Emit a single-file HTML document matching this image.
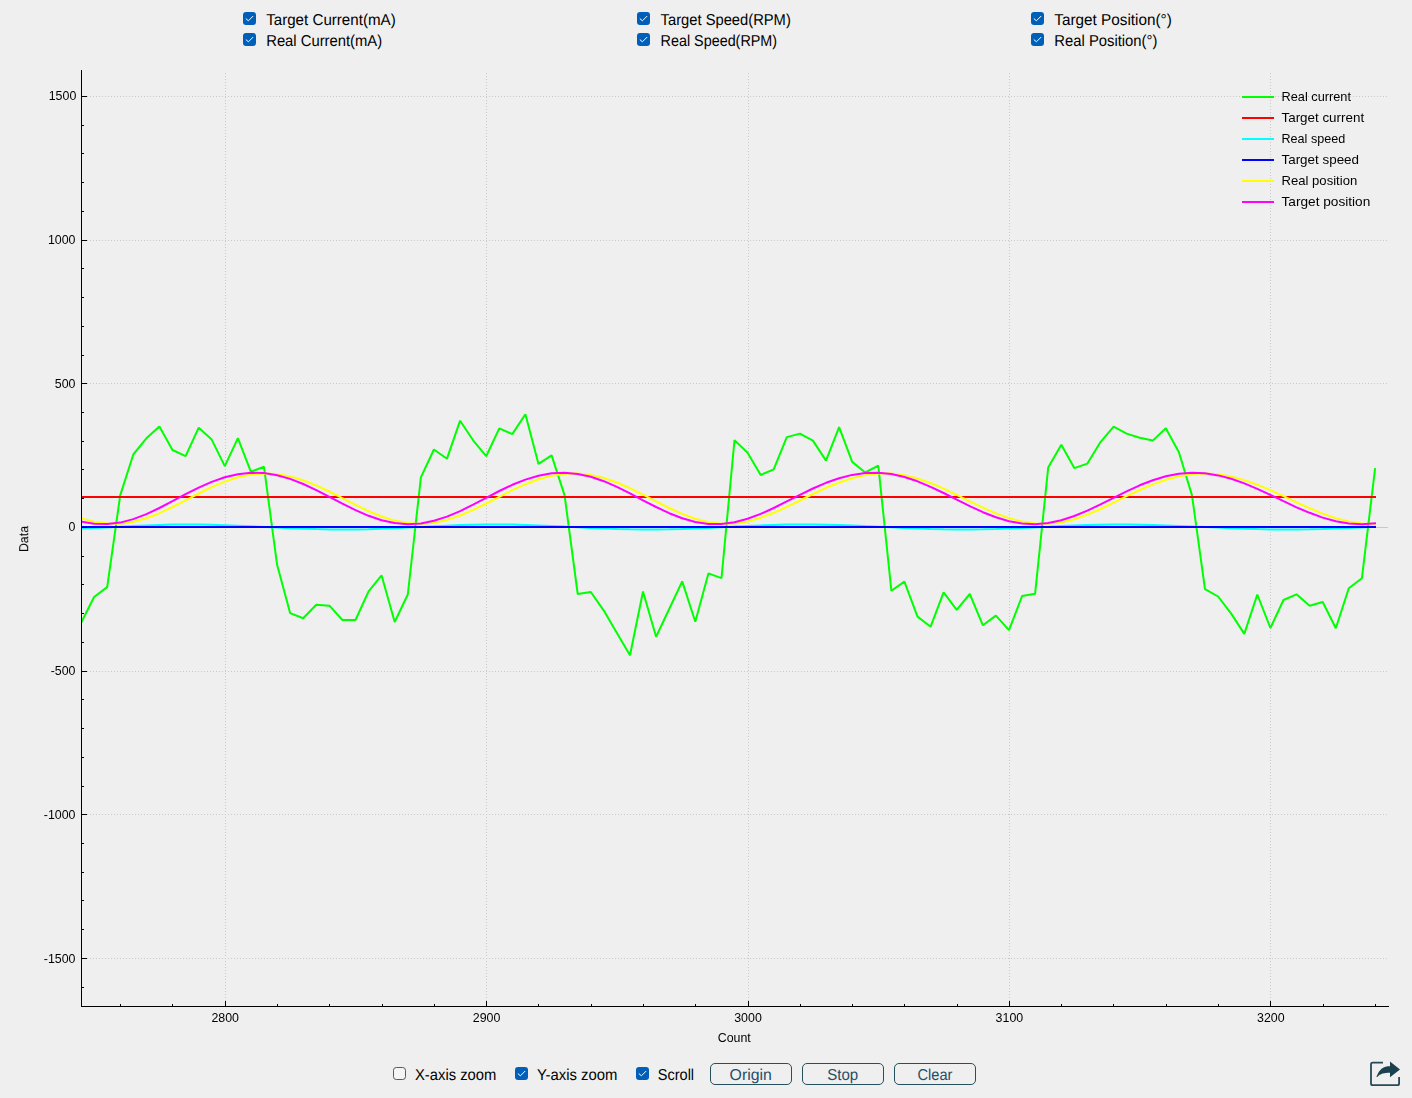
<!DOCTYPE html>
<html><head><meta charset="utf-8"><title>Plot</title>
<style>
html,body{margin:0;padding:0;background:#efefef;}
body{width:1412px;height:1098px;overflow:hidden;font-family:"Liberation Sans", sans-serif;}
svg{display:block;position:absolute;left:0;top:0;}
text{font-family:"Liberation Sans", sans-serif;}
.tk{font-size:12.4px;fill:#000;}
.lg{font-size:13px;fill:#000;}
.cb{text-rendering:geometricPrecision;font-size:15.8px;fill:#000;}
.bt{text-rendering:geometricPrecision;font-size:15.8px;fill:#1f4e66;}
</style></head><body>
<svg width="1412" height="1098" viewBox="0 0 1412 1098">
<rect x="0" y="0" width="1412" height="1098" fill="#efefef"/>
<defs><clipPath id="cp"><rect x="82" y="70" width="1307" height="936"/></clipPath>
<symbol id="ck" overflow="visible"><rect x="0" y="0" width="13" height="13" rx="3" ry="3" fill="#005fb8"/><path d="M3.1 6.8 L5.4 8.8 L9.9 4.3" fill="none" stroke="#fff" stroke-width="1" stroke-linecap="round" stroke-linejoin="round"/></symbol>
<symbol id="uk" overflow="visible"><rect x="0.5" y="0.5" width="12" height="12" rx="2.8" ry="2.8" fill="#f5f5f5" stroke="#585858" stroke-width="1"/></symbol>
</defs>

<g shape-rendering="crispEdges" stroke="#c8c8c8" stroke-width="1" stroke-dasharray="1 2" fill="none">
<line x1="87" y1="96.5" x2="1388" y2="96.5"/>
<line x1="87" y1="240.5" x2="1388" y2="240.5"/>
<line x1="87" y1="383.5" x2="1388" y2="383.5"/>
<line x1="87" y1="671.5" x2="1388" y2="671.5"/>
<line x1="87" y1="814.5" x2="1388" y2="814.5"/>
<line x1="87" y1="958.5" x2="1388" y2="958.5"/>
<line x1="225.5" y1="73" x2="225.5" y2="1001"/>
<line x1="486.5" y1="73" x2="486.5" y2="1001"/>
<line x1="748.5" y1="73" x2="748.5" y2="1001"/>
<line x1="1009.5" y1="73" x2="1009.5" y2="1001"/>
<line x1="1270.5" y1="73" x2="1270.5" y2="1001"/>
</g>
<line x1="82" y1="527.5" x2="1388" y2="527.5" stroke="#c8c8c8" stroke-width="1" shape-rendering="crispEdges"/>
<g clip-path="url(#cp)" fill="none" stroke-width="2" stroke-linejoin="bevel" stroke-linecap="square">
<polyline stroke="#00ff00" points="81.0,623.0 94.1,597.0 107.2,587.1 120.2,495.4 133.3,454.5 146.4,438.3 159.4,426.4 172.5,450.0 185.6,456.2 198.7,427.7 211.7,439.6 224.8,466.1 237.9,438.1 250.9,471.8 264.0,466.8 277.1,564.8 290.1,613.1 303.2,618.3 316.3,604.7 329.4,605.7 342.4,620.0 355.5,620.0 368.6,591.3 381.6,575.4 394.7,622.0 407.8,594.5 420.9,477.3 433.9,449.5 447.0,458.7 460.1,420.7 473.1,440.3 486.2,456.2 499.3,428.4 512.3,434.1 525.4,414.3 538.5,463.9 551.6,455.4 564.6,495.4 577.7,594.0 590.8,592.0 603.8,610.6 616.9,632.9 630.0,655.2 643.0,591.5 656.1,636.7 669.2,609.0 682.2,581.4 695.3,621.8 708.4,573.4 721.5,578.1 734.5,440.1 747.6,452.7 760.7,475.0 773.7,469.3 786.8,437.1 799.9,433.6 812.9,440.6 826.0,460.6 839.1,427.2 852.2,461.9 865.2,472.5 878.3,465.6 891.4,590.8 904.4,581.6 917.5,616.6 930.6,626.7 943.6,592.3 956.7,609.9 969.8,594.0 982.9,625.3 995.9,615.6 1009.0,630.2 1022.1,596.0 1035.1,593.8 1048.2,467.6 1061.3,444.8 1074.3,468.1 1087.4,463.6 1100.5,442.1 1113.6,426.7 1126.6,433.6 1139.7,437.8 1152.8,440.6 1165.8,428.2 1178.9,452.2 1192.0,495.4 1205.0,589.1 1218.1,596.5 1231.2,613.6 1244.3,633.9 1257.3,594.5 1270.4,628.0 1283.5,600.0 1296.5,594.3 1309.6,605.7 1322.7,602.0 1335.8,628.2 1348.8,588.3 1361.9,578.2 1375.0,469.2"/>
<line stroke="#ff0000" x1="81.0" y1="497" x2="1375.0" y2="497"/>
<polyline stroke="#00ffff" points="81.0,528.6 94.1,528.0 107.2,527.4 120.2,526.7 133.3,526.0 146.4,525.4 159.4,525.0 172.5,524.6 185.6,524.5 198.7,524.6 211.7,524.8 224.8,525.2 237.9,525.7 250.9,526.3 264.0,526.9 277.1,527.6 290.1,528.2 303.2,528.7 316.3,529.1 329.4,529.4 342.4,529.5 355.5,529.4 368.6,529.2 381.6,528.8 394.7,528.2 407.8,527.6 420.9,526.9 433.9,526.3 447.0,525.7 460.1,525.1 473.1,524.8 486.2,524.5 499.3,524.5 512.3,524.6 525.4,524.9 538.5,525.4 551.6,525.9 564.6,526.6 577.7,527.2 590.8,527.9 603.8,528.4 616.9,528.9 630.0,529.3 643.0,529.5 656.1,529.5 669.2,529.3 682.2,529.0 695.3,528.5 708.4,527.9 721.5,527.2 734.5,526.6 747.6,525.9 760.7,525.4 773.7,524.9 786.8,524.6 799.9,524.5 812.9,524.5 826.0,524.7 839.1,525.1 852.2,525.5 865.2,526.1 878.3,526.7 891.4,527.3 904.4,527.9 917.5,528.5 930.6,529.0 943.6,529.3 956.7,529.5 969.8,529.5 982.9,529.3 995.9,529.0 1009.0,528.6 1022.1,528.0 1035.1,527.4 1048.2,526.8 1061.3,526.1 1074.3,525.5 1087.4,525.1 1100.5,524.7 1113.6,524.5 1126.6,524.5 1139.7,524.7 1152.8,524.9 1165.8,525.4 1178.9,525.9 1192.0,526.4 1205.0,527.0 1218.1,527.6 1231.2,528.2 1244.3,528.7 1257.3,529.1 1270.4,529.4 1283.5,529.5 1296.5,529.5 1309.6,529.3 1322.7,529.0 1335.8,528.6 1348.8,528.1 1361.9,527.5 1375.0,526.9"/>
<line stroke="#0000ff" x1="81.0" y1="527" x2="1375.0" y2="527"/>
<polyline stroke="#ffff00" points="81.0,518.3 94.1,521.8 107.2,523.6 120.2,523.7 133.3,521.8 146.4,518.2 159.4,513.2 172.5,507.0 185.6,500.3 198.7,493.5 211.7,487.1 224.8,481.6 237.9,477.3 250.9,474.5 264.0,473.4 277.1,474.1 290.1,476.4 303.2,480.3 316.3,485.4 329.4,491.5 342.4,498.2 355.5,504.8 368.6,511.1 381.6,516.5 394.7,520.6 407.8,523.1 420.9,523.9 433.9,522.8 447.0,519.9 460.1,515.5 473.1,509.9 486.2,503.5 499.3,496.8 512.3,490.2 525.4,484.2 538.5,479.3 551.6,475.7 564.6,473.8 577.7,473.5 590.8,475.0 603.8,478.0 616.9,482.5 630.0,488.2 643.0,494.6 656.1,501.4 669.2,508.0 682.2,513.9 695.3,518.8 708.4,522.2 721.5,523.8 734.5,523.5 747.6,521.5 760.7,517.8 773.7,512.8 786.8,506.9 799.9,500.5 812.9,494.0 826.0,487.8 839.1,482.5 852.2,478.2 865.2,475.1 878.3,473.6 891.4,473.6 904.4,475.3 917.5,478.5 930.6,483.0 943.6,488.6 956.7,494.9 969.8,501.4 982.9,507.7 995.9,513.4 1009.0,518.1 1022.1,521.6 1035.1,523.5 1048.2,523.8 1061.3,522.3 1074.3,519.2 1087.4,514.6 1100.5,509.0 1113.6,502.7 1126.6,496.2 1139.7,490.0 1152.8,484.4 1165.8,479.7 1178.9,476.2 1192.0,474.0 1205.0,473.4 1218.1,474.2 1231.2,476.5 1244.3,480.1 1257.3,484.7 1270.4,490.2 1283.5,496.2 1296.5,502.3 1309.6,508.2 1322.7,513.6 1335.8,518.1 1348.8,521.4 1361.9,523.4 1375.0,523.9"/>
<polyline stroke="#ff00ff" points="81.0,521.5 94.1,523.7 107.2,524.1 120.2,522.6 133.3,519.1 146.4,514.1 159.4,508.0 172.5,501.2 185.6,494.2 198.7,487.6 211.7,481.9 224.8,477.3 237.9,474.2 250.9,472.8 264.0,473.1 277.1,475.2 290.1,478.9 303.2,484.0 316.3,490.1 329.4,496.8 342.4,503.6 355.5,510.1 368.6,515.8 381.6,520.2 394.7,523.1 407.8,524.2 420.9,523.4 433.9,520.8 447.0,516.6 460.1,511.1 473.1,504.6 486.2,497.8 499.3,491.0 512.3,484.8 525.4,479.6 538.5,475.7 551.6,473.3 564.6,472.7 577.7,473.9 590.8,476.8 603.8,481.2 616.9,486.9 630.0,493.4 643.0,500.3 656.1,507.0 669.2,513.2 682.2,518.3 695.3,522.0 708.4,523.9 721.5,524.0 734.5,522.2 747.6,518.8 760.7,513.9 773.7,508.0 786.8,501.4 799.9,494.8 812.9,488.5 826.0,482.8 839.1,478.2 852.2,474.9 865.2,473.1 878.3,472.8 891.4,474.1 904.4,477.0 917.5,481.3 930.6,486.8 943.6,493.0 956.7,499.6 969.8,506.1 982.9,512.2 995.9,517.3 1009.0,521.2 1022.1,523.5 1035.1,524.2 1048.2,523.1 1061.3,520.3 1074.3,516.0 1087.4,510.6 1100.5,504.4 1113.6,497.8 1126.6,491.3 1139.7,485.3 1152.8,480.2 1165.8,476.2 1178.9,473.7 1192.0,472.7 1205.0,473.3 1218.1,475.4 1231.2,478.8 1244.3,483.4 1257.3,488.8 1270.4,494.9 1283.5,501.2 1296.5,507.3 1309.6,512.8 1322.7,517.6 1335.8,521.2 1348.8,523.4 1361.9,524.2 1375.0,523.4"/>
</g>
<g shape-rendering="crispEdges" stroke="#000" stroke-width="1" fill="none">
<line x1="81.5" y1="70" x2="81.5" y2="1007"/>
<line x1="81" y1="1006.5" x2="1389" y2="1006.5"/>
<line x1="82" y1="987.5" x2="84" y2="987.5"/>
<line x1="82" y1="958.5" x2="87" y2="958.5"/>
<line x1="82" y1="929.5" x2="84" y2="929.5"/>
<line x1="82" y1="900.5" x2="84" y2="900.5"/>
<line x1="82" y1="872.5" x2="84" y2="872.5"/>
<line x1="82" y1="843.5" x2="84" y2="843.5"/>
<line x1="82" y1="814.5" x2="87" y2="814.5"/>
<line x1="82" y1="786.5" x2="84" y2="786.5"/>
<line x1="82" y1="757.5" x2="84" y2="757.5"/>
<line x1="82" y1="728.5" x2="84" y2="728.5"/>
<line x1="82" y1="699.5" x2="84" y2="699.5"/>
<line x1="82" y1="671.5" x2="87" y2="671.5"/>
<line x1="82" y1="642.5" x2="84" y2="642.5"/>
<line x1="82" y1="613.5" x2="84" y2="613.5"/>
<line x1="82" y1="584.5" x2="84" y2="584.5"/>
<line x1="82" y1="556.5" x2="84" y2="556.5"/>
<line x1="82" y1="527.5" x2="87" y2="527.5"/>
<line x1="82" y1="498.5" x2="84" y2="498.5"/>
<line x1="82" y1="469.5" x2="84" y2="469.5"/>
<line x1="82" y1="441.5" x2="84" y2="441.5"/>
<line x1="82" y1="412.5" x2="84" y2="412.5"/>
<line x1="82" y1="383.5" x2="87" y2="383.5"/>
<line x1="82" y1="355.5" x2="84" y2="355.5"/>
<line x1="82" y1="326.5" x2="84" y2="326.5"/>
<line x1="82" y1="297.5" x2="84" y2="297.5"/>
<line x1="82" y1="268.5" x2="84" y2="268.5"/>
<line x1="82" y1="240.5" x2="87" y2="240.5"/>
<line x1="82" y1="211.5" x2="84" y2="211.5"/>
<line x1="82" y1="182.5" x2="84" y2="182.5"/>
<line x1="82" y1="153.5" x2="84" y2="153.5"/>
<line x1="82" y1="125.5" x2="84" y2="125.5"/>
<line x1="82" y1="96.5" x2="87" y2="96.5"/>
<line x1="120.5" y1="1006" x2="120.5" y2="1004"/>
<line x1="172.5" y1="1006" x2="172.5" y2="1004"/>
<line x1="225.5" y1="1006" x2="225.5" y2="1001"/>
<line x1="277.5" y1="1006" x2="277.5" y2="1004"/>
<line x1="329.5" y1="1006" x2="329.5" y2="1004"/>
<line x1="382.5" y1="1006" x2="382.5" y2="1004"/>
<line x1="434.5" y1="1006" x2="434.5" y2="1004"/>
<line x1="486.5" y1="1006" x2="486.5" y2="1001"/>
<line x1="538.5" y1="1006" x2="538.5" y2="1004"/>
<line x1="591.5" y1="1006" x2="591.5" y2="1004"/>
<line x1="643.5" y1="1006" x2="643.5" y2="1004"/>
<line x1="695.5" y1="1006" x2="695.5" y2="1004"/>
<line x1="748.5" y1="1006" x2="748.5" y2="1001"/>
<line x1="800.5" y1="1006" x2="800.5" y2="1004"/>
<line x1="852.5" y1="1006" x2="852.5" y2="1004"/>
<line x1="904.5" y1="1006" x2="904.5" y2="1004"/>
<line x1="957.5" y1="1006" x2="957.5" y2="1004"/>
<line x1="1009.5" y1="1006" x2="1009.5" y2="1001"/>
<line x1="1061.5" y1="1006" x2="1061.5" y2="1004"/>
<line x1="1113.5" y1="1006" x2="1113.5" y2="1004"/>
<line x1="1166.5" y1="1006" x2="1166.5" y2="1004"/>
<line x1="1218.5" y1="1006" x2="1218.5" y2="1004"/>
<line x1="1270.5" y1="1006" x2="1270.5" y2="1001"/>
<line x1="1323.5" y1="1006" x2="1323.5" y2="1004"/>
<line x1="1375.5" y1="1006" x2="1375.5" y2="1004"/>
</g>
<g style="opacity:0.999">
<text class="tk" x="76.3" y="100.1" text-anchor="end">1500</text>
<text class="tk" x="75.5" y="243.8" text-anchor="end">1000</text>
<text class="tk" x="75.5" y="388.1" text-anchor="end">500</text>
<text class="tk" x="75.5" y="531.1" text-anchor="end">0</text>
<text class="tk" x="75.5" y="674.8" text-anchor="end">-500</text>
<text class="tk" x="75.5" y="819.3" text-anchor="end">-1000</text>
<text class="tk" x="75.5" y="962.9" text-anchor="end">-1500</text>
<text class="tk" x="225.2" y="1021.8" text-anchor="middle">2800</text>
<text class="tk" x="486.6" y="1021.8" text-anchor="middle">2900</text>
<text class="tk" x="748.0" y="1021.8" text-anchor="middle">3000</text>
<text class="tk" x="1009.4" y="1021.8" text-anchor="middle">3100</text>
<text class="tk" x="1270.8" y="1021.8" text-anchor="middle">3200</text>
<text class="tk" x="734.3" y="1041.8" text-anchor="middle">Count</text>
<text class="tk" transform="translate(28.2,539) rotate(-90)" text-anchor="middle">Data</text>
<line x1="1242" y1="97" x2="1274" y2="97" stroke="#00ff00" stroke-width="2"/>
<text class="lg" x="1281.5" y="101.3" textLength="69.5" lengthAdjust="spacingAndGlyphs">Real current</text>
<line x1="1242" y1="118" x2="1274" y2="118" stroke="#ff0000" stroke-width="2"/>
<text class="lg" x="1281.5" y="122.3" textLength="82.6" lengthAdjust="spacingAndGlyphs">Target current</text>
<line x1="1242" y1="139" x2="1274" y2="139" stroke="#00ffff" stroke-width="2"/>
<text class="lg" x="1281.5" y="143.3" textLength="63.7" lengthAdjust="spacingAndGlyphs">Real speed</text>
<line x1="1242" y1="160" x2="1274" y2="160" stroke="#0000ff" stroke-width="2"/>
<text class="lg" x="1281.5" y="164.3" textLength="77.5" lengthAdjust="spacingAndGlyphs">Target speed</text>
<line x1="1242" y1="181" x2="1274" y2="181" stroke="#ffff00" stroke-width="2"/>
<text class="lg" x="1281.5" y="185.3" textLength="75.7" lengthAdjust="spacingAndGlyphs">Real position</text>
<line x1="1242" y1="202" x2="1274" y2="202" stroke="#ff00ff" stroke-width="2"/>
<text class="lg" x="1281.5" y="206.3" textLength="88.8" lengthAdjust="spacingAndGlyphs">Target position</text>
</g>
<use href="#ck" x="243" y="12"/><text class="cb" x="266.2" y="24.8" textLength="129.5" lengthAdjust="spacingAndGlyphs">Target Current(mA)</text>
<use href="#ck" x="243" y="33"/><text class="cb" x="266.2" y="45.8" textLength="116.0" lengthAdjust="spacingAndGlyphs">Real Current(mA)</text>
<use href="#ck" x="637" y="12"/><text class="cb" x="660.6" y="24.8" textLength="130.2" lengthAdjust="spacingAndGlyphs">Target Speed(RPM)</text>
<use href="#ck" x="637" y="33"/><text class="cb" x="660.6" y="45.8" textLength="116.5" lengthAdjust="spacingAndGlyphs">Real Speed(RPM)</text>
<use href="#ck" x="1031" y="12"/><text class="cb" x="1054.3" y="24.8" textLength="117.5" lengthAdjust="spacingAndGlyphs">Target Position(°)</text>
<use href="#ck" x="1031" y="33"/><text class="cb" x="1054.3" y="45.8" textLength="103.1" lengthAdjust="spacingAndGlyphs">Real Position(°)</text>
<use href="#uk" x="393" y="1067"/><text class="cb" x="415" y="1080" textLength="81.3" lengthAdjust="spacingAndGlyphs">X-axis zoom</text>
<use href="#ck" x="515" y="1067"/><text class="cb" x="537" y="1080" textLength="80.4" lengthAdjust="spacingAndGlyphs">Y-axis zoom</text>
<use href="#ck" x="636" y="1067"/><text class="cb" x="657.8" y="1080" textLength="36.3" lengthAdjust="spacingAndGlyphs">Scroll</text>
<rect x="710.5" y="1063.5" width="81" height="21" rx="4.5" ry="4.5" fill="none" stroke="#24505f" stroke-width="1"/>
<text class="bt" x="729.6" y="1080" textLength="42.2" lengthAdjust="spacingAndGlyphs">Origin</text>
<rect x="802.5" y="1063.5" width="81" height="21" rx="4.5" ry="4.5" fill="none" stroke="#24505f" stroke-width="1"/>
<text class="bt" x="827.2" y="1080" textLength="30.9" lengthAdjust="spacingAndGlyphs">Stop</text>
<rect x="894.5" y="1063.5" width="81" height="21" rx="4.5" ry="4.5" fill="none" stroke="#24505f" stroke-width="1"/>
<text class="bt" x="917.5" y="1080" textLength="34.9" lengthAdjust="spacingAndGlyphs">Clear</text>
<g fill="none" stroke="#264b59" stroke-width="1.8" stroke-linecap="butt" stroke-linejoin="round">
<path d="M1383 1062.7 H1372.7 Q1371 1062.7 1371 1064.4 V1083.4 Q1371 1085.1 1372.7 1085.1 H1397.4 Q1399.1 1085.1 1399.1 1083.4 V1077"/>
</g>
<path d="M1376.4 1077 C1379.5 1068.5 1383.5 1066.2 1390 1066.2 V1061.6 L1400 1069.4 L1390 1077.2 V1072.8 C1384 1072.8 1380.5 1073.6 1377.3 1077 Z" fill="#1b414e"/>

</svg></body></html>
